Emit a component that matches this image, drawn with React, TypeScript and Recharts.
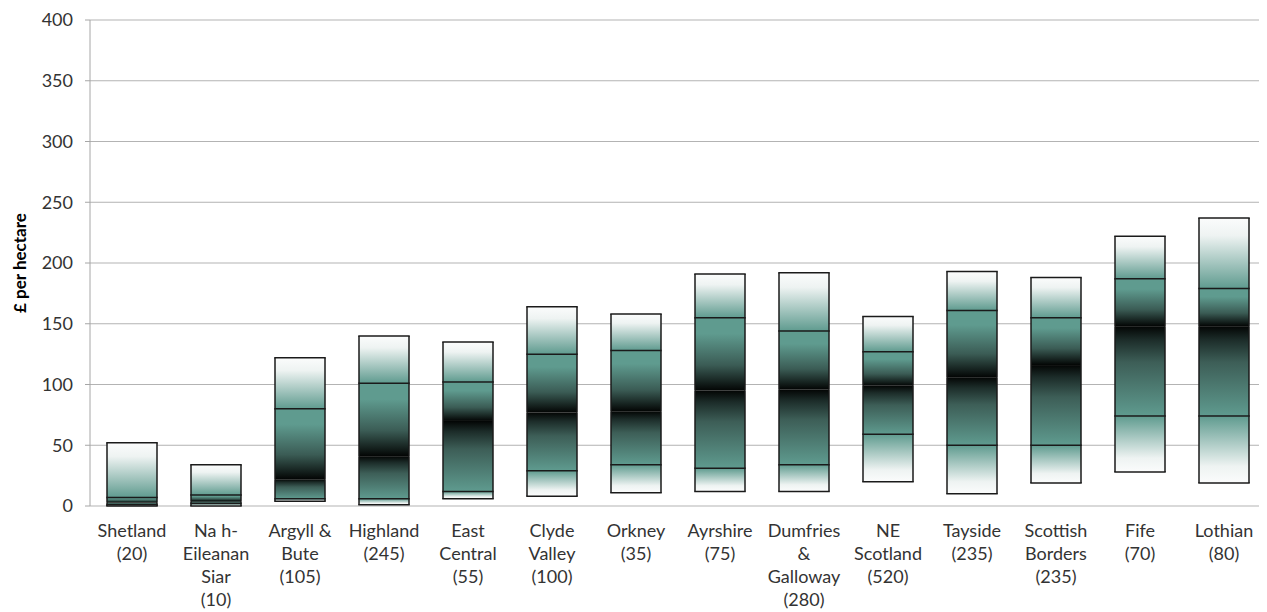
import React from 'react';
import { BarChart, Bar, XAxis, YAxis, CartesianGrid } from 'recharts';

const categories = [
  'Shetland\n(20)',
  'Na h-\nEileanan\nSiar\n(10)',
  'Argyll &\nBute\n(105)',
  'Highland\n(245)',
  'East\nCentral\n(55)',
  'Clyde\nValley\n(100)',
  'Orkney\n(35)',
  'Ayrshire\n(75)',
  'Dumfries\n&\nGalloway\n(280)',
  'NE\nScotland\n(520)',
  'Tayside\n(235)',
  'Scottish\nBorders\n(235)',
  'Fife\n(70)',
  'Lothian\n(80)',
];
const minVals = [0, 0, 4, 1, 6, 8, 11, 12, 12, 20, 10, 19, 28, 19];
const q1Vals = [1, 2, 6, 6, 12, 29, 34, 31, 34, 59, 50, 50, 74, 74];
const medianVals = [3, 4, 22, 41, 70, 77, 78, 95, 96, 99, 106, 116, 148, 148];
const q3Vals = [7, 9, 80, 101, 102, 125, 128, 155, 144, 127, 161, 155, 187, 179];
const maxVals = [52, 34, 122, 140, 135, 164, 158, 191, 192, 156, 193, 188, 222, 237];
const yTicks = [0, 50, 100, 150, 200, 250, 300, 350, 400];
const boundaryTicks = [0, 1, 2, 3, 4, 5, 6, 7, 8, 9, 10, 11, 12, 13, 14];

const data = categories.map((name, i) => ({
  name,
  base: minVals[i],
  lower: q1Vals[i] - minVals[i],
  midLow: medianVals[i] - q1Vals[i],
  midHigh: q3Vals[i] - medianVals[i],
  upper: maxVals[i] - q3Vals[i],
}));

const TEAL = '#5f9b8f';
const FONT = 'Lato, "Open Sans", sans-serif';
const LINE = '#1a1a1a';

const makeShape = (kind: string) => (props: any) => {
  const { x, y, width, height } = props;
  if (height == null || width == null || isNaN(height)) return <g />;
  const top = y;
  const bottom = y + height;
  const right = x + width;
  const sw = 1.5;
  const drawTop = kind === 'upper';
  const drawBottom = kind === 'upper' || kind === 'lower' || kind === 'midLow';
  return (
    <g>
      <rect x={x} y={top} width={width} height={Math.max(height, 0)} fill={`url(#grad-${kind})`} stroke="none" />
      <line x1={x} y1={top} x2={x} y2={bottom} stroke={LINE} strokeWidth={sw} />
      <line x1={right} y1={top} x2={right} y2={bottom} stroke={LINE} strokeWidth={sw} />
      {drawTop && <line x1={x - 0.75} y1={top} x2={right + 0.75} y2={top} stroke={LINE} strokeWidth={sw} />}
      {drawBottom && <line x1={x - 0.75} y1={bottom} x2={right + 0.75} y2={bottom} stroke={LINE} strokeWidth={sw} />}
    </g>
  );
};

const CategoryTick = (props: any) => {
  const { x, y, payload } = props;
  const lines = String(payload.value).split('\n');
  return (
    <text x={x} y={y + 31} textAnchor="middle" fill="#333333" fontFamily={FONT} fontSize={18}>
      {lines.map((l: string, i: number) => (
        <tspan key={i} x={x} dy={i === 0 ? 0 : 23}>
          {l}
        </tspan>
      ))}
    </text>
  );
};

export default function App() {
  return (
    <BarChart
      width={1259}
      height={604}
      data={data}
      margin={{ top: 12, right: 1, bottom: 0, left: 0 }}
      barSize={50}
    >
      <defs>
        <linearGradient id="grad-upper" x1="0" y1="0" x2="0" y2="1">
          <stop offset="0%" stopColor="#fbfcfc" />
          <stop offset="25%" stopColor="#eef3f2" />
          <stop offset="100%" stopColor={TEAL} />
        </linearGradient>
        <linearGradient id="grad-midHigh" x1="0" y1="0" x2="0" y2="1">
          <stop offset="0%" stopColor={TEAL} />
          <stop offset="22%" stopColor={TEAL} />
          <stop offset="65%" stopColor="#3b5c55" />
          <stop offset="100%" stopColor="#030504" />
        </linearGradient>
        <linearGradient id="grad-midLow" x1="0" y1="0" x2="0" y2="1">
          <stop offset="0%" stopColor="#030504" />
          <stop offset="15%" stopColor="#1c2c29" />
          <stop offset="40%" stopColor="#3d5e57" />
          <stop offset="100%" stopColor={TEAL} />
        </linearGradient>
        <linearGradient id="grad-lower" x1="0" y1="0" x2="0" y2="1">
          <stop offset="0%" stopColor={TEAL} />
          <stop offset="75%" stopColor="#eef3f2" />
          <stop offset="100%" stopColor="#fbfcfc" />
        </linearGradient>
      </defs>
      <CartesianGrid vertical={false} stroke="#b3b3b3" strokeWidth={1} />
      <XAxis
        xAxisId="bounds"
        type="number"
        domain={[0, 14]}
        ticks={boundaryTicks}
        allowDataOverflow
        height={0}
        tick={false}
        tickSize={6}
        tickLine={{ stroke: '#a6a6a6' }}
        axisLine={{ stroke: '#a6a6a6' }}
      />
      <XAxis
        dataKey="name"
        interval={0}
        height={106}
        tickLine={false}
        tickSize={0}
        tickMargin={0}
        axisLine={false}
        tick={<CategoryTick />}
      />
      <YAxis
        width={82}
        domain={[0, 400]}
        ticks={yTicks}
        tickSize={5}
        tickMargin={12}
        tickLine={{ stroke: '#a6a6a6' }}
        axisLine={{ stroke: '#a6a6a6' }}
        tick={{ fill: '#333333', fontFamily: FONT, fontSize: 18 }}
        label={{
          value: '£ per hectare',
          angle: -90,
          position: 'insideLeft',
          offset: 12,
          style: { textAnchor: 'middle', fontFamily: FONT, fontSize: 17, fontWeight: 'bold', fill: '#000000' },
        }}
      />
      <Bar dataKey="base" stackId="a" fill="transparent" isAnimationActive={false} shape={() => <g />} />
      <Bar dataKey="lower" stackId="a" isAnimationActive={false} shape={makeShape('lower')} />
      <Bar dataKey="midLow" stackId="a" isAnimationActive={false} shape={makeShape('midLow')} />
      <Bar dataKey="midHigh" stackId="a" isAnimationActive={false} shape={makeShape('midHigh')} />
      <Bar dataKey="upper" stackId="a" isAnimationActive={false} shape={makeShape('upper')} />
    </BarChart>
  );
}
